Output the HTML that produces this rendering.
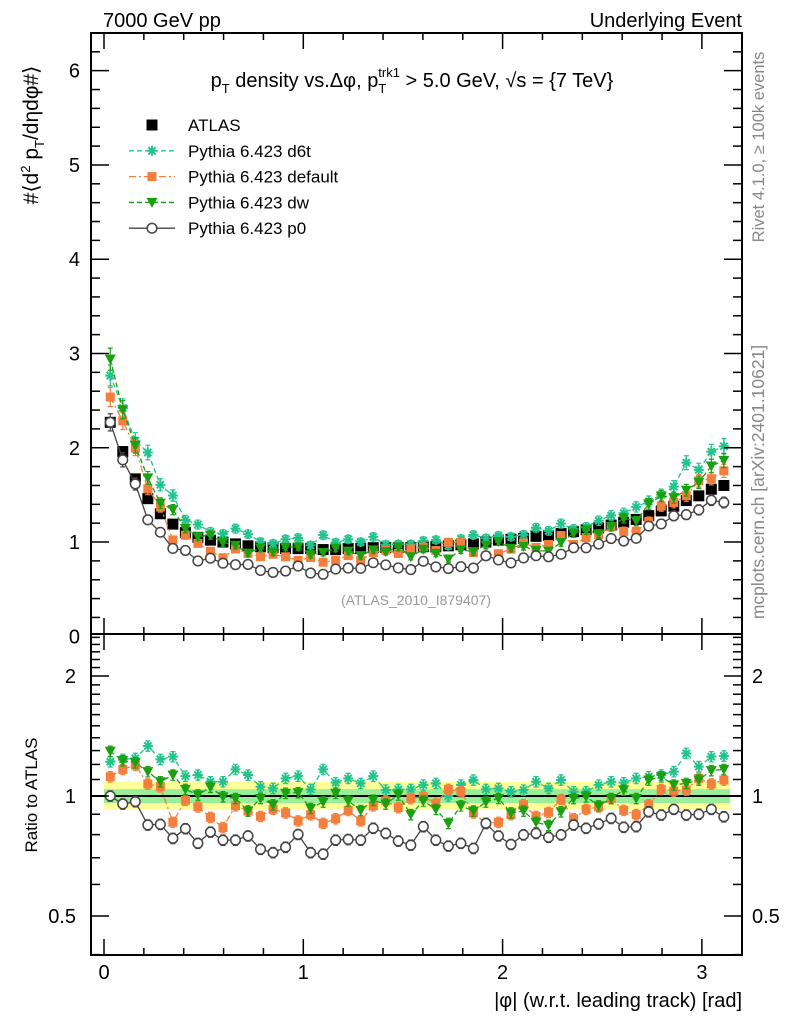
<!DOCTYPE html>
<html><head><meta charset="utf-8">
<style>
html,body{margin:0;padding:0;background:#fff;}
svg{display:block;font-family:"Liberation Sans",sans-serif;}
</style></head>
<body>
<svg id="chart" width="786" height="1024" viewBox="0 0 786 1024" xmlns="http://www.w3.org/2000/svg">
<text x="103" y="27" font-size="20">7000 GeV pp</text>
<text x="742" y="27" font-size="20" text-anchor="end">Underlying Event</text>
<text x="412" y="87" font-size="20" text-anchor="middle">p<tspan font-size="13" dy="6">T</tspan><tspan dy="-6"> density vs.Δφ, p</tspan><tspan font-size="13" dy="6" dx="0">T</tspan><tspan font-size="13" dy="-16" dx="-8">trk1</tspan><tspan dy="10"> &gt; 5.0 GeV, √s = {7 TeV}</tspan></text>
<text transform="translate(38,135) rotate(-90)" font-size="21" text-anchor="middle">#⟨d<tspan font-size="13" dy="-8">2</tspan><tspan dy="8"> p</tspan><tspan font-size="13" dy="6">T</tspan><tspan dy="-6">/dηdφ#⟩</tspan></text>
<text transform="translate(764,147) rotate(-90)" font-size="16.5" fill="#888" text-anchor="middle">Rivet 4.1.0, ≥ 100k events</text>
<text transform="translate(764,482) rotate(-90)" font-size="17.5" fill="#888" text-anchor="middle">mcplots.cern.ch [arXiv:2401.10621]</text>
<text x="416" y="605" font-size="14" fill="#999" text-anchor="middle">(ATLAS_2010_I879407)</text>
<text transform="translate(37,795) rotate(-90)" font-size="17" text-anchor="middle">Ratio to ATLAS</text>
<text x="742" y="1007" font-size="20" text-anchor="end">|φ| (w.r.t. leading track) [rad]</text>
<g id="legend"></g>
<g id="plot"></g>
</svg>
<script>
const NS="http://www.w3.org/2000/svg";
const svg=document.getElementById('plot');
const legendG=document.getElementById('legend');
// ---- data ----
const nBins=50;
const xMax=Math.PI;
const atlas=[2.27,1.96,1.67,1.46,1.30,1.19,1.10,1.05,1.02,1.00,0.98,0.96,0.95,0.94,0.93,0.93,0.93,0.92,0.92,0.93,0.93,0.94,0.94,0.94,0.94,0.95,0.95,0.96,0.97,0.98,1.00,1.02,1.03,1.04,1.06,1.07,1.09,1.11,1.13,1.15,1.18,1.21,1.24,1.28,1.33,1.38,1.44,1.49,1.56,1.60];
const ratioD6t=[1.219,1.236,1.243,1.335,1.236,1.255,1.122,1.129,1.086,1.086,1.166,1.129,1.055,1.045,1.107,1.122,1.039,1.166,1.080,1.107,1.076,1.122,1.035,1.039,1.039,1.066,1.076,1.0,1.066,1.097,1.039,1.045,1.025,1.035,1.086,1.045,1.097,1.025,1.025,1.066,1.086,1.08,1.107,1.118,1.129,1.151,1.279,1.185,1.255,1.26];
const ratioDefault=[1.118,1.166,1.196,1.072,1.055,0.859,0.976,0.939,0.884,0.833,0.945,0.917,0.889,0.926,0.907,0.866,0.898,0.854,0.877,0.920,0.866,0.945,0.972,0.935,0.986,0.996,0.959,1.039,1.025,0.907,0.854,0.859,0.898,0.951,0.889,0.910,0.980,0.877,0.926,0.939,0.986,0.920,0.898,0.951,1.039,1.029,1.035,1.107,1.072,1.097];
const ratioDw=[1.295,1.226,1.212,1.151,1.086,1.129,1.039,1.006,1.052,0.996,0.986,0.917,0.986,0.951,1.016,1.020,0.931,0.966,1.016,0.972,0.920,0.976,0.955,1.006,0.898,0.972,0.926,0.854,0.945,0.917,0.966,0.986,0.907,0.917,0.859,0.844,0.913,0.986,0.996,0.945,0.986,1.035,0.986,1.097,1.118,1.066,1.076,1.097,1.158,1.166];
const ratioP0=[1.00,0.955,0.968,0.846,0.849,0.783,0.828,0.761,0.812,0.775,0.775,0.794,0.735,0.721,0.744,0.801,0.721,0.715,0.775,0.778,0.775,0.830,0.806,0.771,0.753,0.838,0.775,0.749,0.761,0.739,0.854,0.794,0.756,0.799,0.806,0.788,0.799,0.846,0.830,0.851,0.879,0.835,0.838,0.913,0.896,0.926,0.896,0.900,0.926,0.887];
const bandOuter=[0.925,1.085];
const bandInner=[0.96,1.04];
const mainYTicks=[0,1,2,3,4,5,6];
const ratioYTicks=[0.5,1,2];
const xTicks=[0,1,2,3];
// ---- axes ----
const X0=104,XS=199.3;
const fx=v=>X0+XS*v;
const fyMain=v=>636.3-94.27*v;
const fyRatio=r=>796-120*Math.log2(r);
const L=91,R=742,MT=33,MB=634,RT=634,RB=955;

function el(tag,attrs,parent){const e=document.createElementNS(NS,tag);for(const k in attrs)e.setAttribute(k,attrs[k]);(parent||svg).appendChild(e);return e;}

const defs=el('defs',{});
const c1=el('clipPath',{id:'cm'},defs);el('rect',{x:L,y:MT,width:R-L,height:MB-MT},c1);
const c2=el('clipPath',{id:'cr'},defs);el('rect',{x:L,y:RT,width:R-L,height:RB-RT},c2);

const gMain=el('g',{'clip-path':'url(#cm)'});


const gRatio=el('g',{'clip-path':'url(#cr)'});



const bo=el('rect',{x:fx(0),y:fyRatio(bandOuter[1]),width:fx(xMax)-fx(0),height:fyRatio(bandOuter[0])-fyRatio(bandOuter[1]),fill:'#ffff99'},gRatio);


const bi=el('rect',{x:fx(0),y:fyRatio(bandInner[1]),width:fx(xMax)-fx(0),height:fyRatio(bandInner[0])-fyRatio(bandInner[1]),fill:'#99ee99'},gRatio);


const ul=el('line',{x1:L,x2:R,y1:fyRatio(1),y2:fyRatio(1),stroke:'#000','stroke-width':2},gRatio);



const bw=xMax/nBins;
const xc=i=>fx(bw*(i+0.5));

function marker(g,type,x,y,color){
  let m;
  if(type==='bigsq'){m=el('rect',{x:x-5.5,y:y-5.5,width:11,height:11,fill:'#000'},g);}
  else if(type==='sq'){m=el('rect',{x:x-4.5,y:y-4.5,width:9,height:9,fill:color},g);}
  else if(type==='tri'){m=el('path',{d:`M${x-5.5},${y-4.5}L${x+5.5},${y-4.5}L${x},${y+5.5}Z`,fill:color},g);}
  else if(type==='circ'){m=el('circle',{cx:x,cy:y,r:4.8,fill:'#fff',stroke:color,'stroke-width':1.5},g);}
  else if(type==='star'){m=el('path',{d:`M${x-5},${y}H${x+5}M${x},${y-5}V${y+5}M${x-3.6},${y-3.6}L${x+3.6},${y+3.6}M${x-3.6},${y+3.6}L${x+3.6},${y-3.6}`,stroke:color,'stroke-width':2},g);}
  return m;
}

const series=[
 {name:'d6t',ratio:ratioD6t,color:'#22c48c',dash:'5,3',mk:'star',label:'Pythia 6.423 d6t'},
 {name:'default',ratio:ratioDefault,color:'#f47e3c',dash:'7,3,2,3',mk:'sq',label:'Pythia 6.423 default'},
 {name:'dw',ratio:ratioDw,color:'#1aa010',dash:'5,3',mk:'tri',label:'Pythia 6.423 dw'},
 {name:'p0',ratio:ratioP0,color:'#444',dash:'',mk:'circ',label:'Pythia 6.423 p0'}
];

const ga=el('g',{},gMain);


atlas.forEach((v,i)=>{
  const m=marker(ga,'bigsq',xc(i),fyMain(v));
  
  
});

series.forEach(s=>{
  const vals=atlas.map((a,i)=>a*s.ratio[i]);
  [[gMain,vals,fyMain],[gRatio,s.ratio,fyRatio]].forEach(([parent,arr,fy],k)=>{
    const g=el('g',{},parent);
    
    
    const pts=arr.map((v,i)=>xc(i)+','+fy(v)).join(' ');
    const ln=el('polyline',{points:pts,fill:'none',stroke:s.color,'stroke-width':1.3,'stroke-dasharray':s.dash},g);
    
    
    arr.forEach((v,i)=>{
      const e=k?0.03*v:0.04*v;
      const x=xc(i),y1=fy(v+e),y2=fy(v-e);
      const eb=el('path',{d:`M${x},${y1}V${y2}M${x-2.5},${y1}H${x+2.5}M${x-2.5},${y2}H${x+2.5}`,stroke:s.color,'stroke-width':1.2,fill:'none'},g);
      
      
      const m=marker(g,s.mk,x,fy(v),s.color);
      
      
    });
  });
});

[[MT,MB],[RT,RB]].forEach(([t,b],k)=>{
  const f=el('rect',{x:L,y:t,width:R-L,height:b-t,fill:'none',stroke:'#000','stroke-width':2});
  
  
});
for(let v=0;v<=3.15;v+=0.2){
  const maj=Math.abs(v-Math.round(v))<1e-6;
  const len=maj?16:7;
  const x=fx(v);
  [[MT,1],[MB,-1],[RT,1],[RB,-1]].forEach(([y,d])=>{
    const t=el('line',{x1:x,x2:x,y1:y,y2:y+d*len,stroke:'#000','stroke-width':1.5});
    
    
  });
}
xTicks.forEach(v=>{
  const t=el('text',{x:fx(v),y:979,'font-size':20,'text-anchor':'middle'});t.textContent=v;
  
  
});
for(let i=0;i<=32;i++){
  const v=i*0.2,maj=i%5===0,len=maj?18:9,y=fyMain(v);
  if(y<MT||y>MB)continue;
  [[L,1],[R,-1]].forEach(([x,d])=>{
    const t=el('line',{x1:x,x2:x+d*len,y1:y,y2:y,stroke:'#000','stroke-width':1.5});
    
    
  });
}
mainYTicks.forEach(v=>{
  const t=el('text',{x:80,y:fyMain(v)+7,'font-size':20,'text-anchor':'end'});t.textContent=v;
  
  
});
for(let v=0.4;v<=2.55;v+=0.1){
  const r=Math.round(v*10)/10;const y=fyRatio(r);
  if(y<RT||y>RB)continue;
  const maj=[0.5,1,2].includes(r);const len=maj?18:9;
  [[L,1],[R,-1]].forEach(([x,d])=>{
    const t=el('line',{x1:x,x2:x+d*len,y1:y,y2:y,stroke:'#000','stroke-width':1.5});
    
    
  });
}
ratioYTicks.forEach(v=>{
  [[76,'end'],[752,'start']].forEach(([x,a])=>{
    const t=el('text',{x:x,y:fyRatio(v)+7,'font-size':20,'text-anchor':a});t.textContent=v;
    
    
  });
});
const rows=[{label:'ATLAS',mk:'bigsq',color:'#000',dash:null}].concat(series.map(s=>({label:s.label,mk:s.mk,color:s.color,dash:s.dash})));
rows.forEach((r,i)=>{
  const y=125+i*25.8;
  const g=el('g',{},legendG);
  
  
  if(r.dash!==null)el('line',{x1:129,x2:175,y1:y,y2:y,stroke:r.color,'stroke-width':1.3,'stroke-dasharray':r.dash},g);
  marker(g,r.mk,152,y,r.color);
  const t=el('text',{x:188,y:y+6,'font-size':17},g);t.textContent=r.label;
});
</script>
</body></html>
